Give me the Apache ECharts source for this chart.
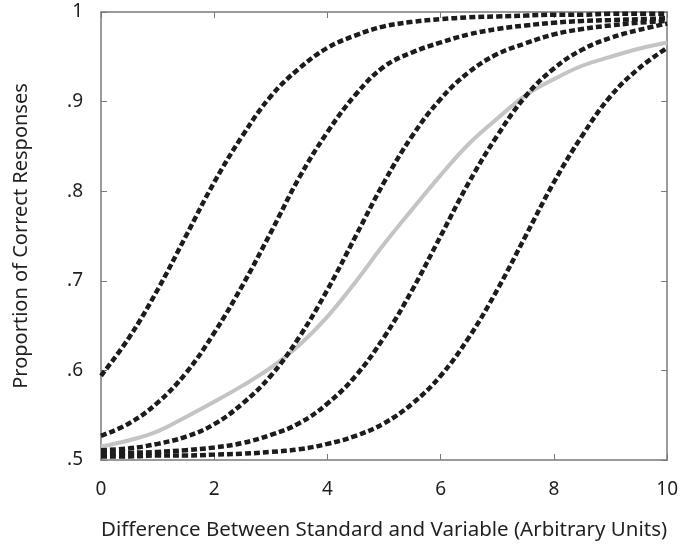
<!DOCTYPE html>
<html>
<head>
<meta charset="utf-8">
<script src="https://cdn.jsdelivr.net/npm/echarts@6/dist/echarts.min.js"></script>
<style>
html,body{margin:0;padding:0;background:#fff;}
#chart{width:681px;height:547px;}
</style>
</head>
<body>
<div id="chart"></div>
<script>
// x positions (Arbitrary Units)
var xValues = [0,0.5,1,1.5,2,2.5,3,3.5,4,4.5,5,5.5,6,6.5,7,7.5,8,8.5,9,9.5,10];

// dashed curves (proportion correct)
var curveA = [0.594,0.637,0.690,0.750,0.810,0.862,0.906,0.937,0.960,0.974,0.984,0.989,0.992,0.994,0.995,0.996,0.997,0.997,0.998,0.998,0.998];
var curveB = [0.527,0.541,0.564,0.597,0.642,0.695,0.754,0.815,0.866,0.908,0.939,0.955,0.966,0.975,0.981,0.985,0.988,0.990,0.991,0.992,0.993];
var curveC = [0.511,0.513,0.518,0.526,0.540,0.563,0.594,0.637,0.690,0.750,0.810,0.862,0.903,0.933,0.953,0.965,0.975,0.981,0.985,0.988,0.990];
var curveD = [0.507,0.508,0.509,0.511,0.514,0.519,0.528,0.541,0.563,0.594,0.637,0.690,0.750,0.810,0.862,0.906,0.937,0.958,0.971,0.980,0.987];
var curveE = [0.504,0.504,0.505,0.505,0.506,0.507,0.509,0.512,0.518,0.527,0.541,0.563,0.594,0.637,0.690,0.750,0.810,0.862,0.906,0.937,0.960];

// solid grey curve
var curveGrey = [0.515,0.522,0.532,0.548,0.565,0.583,0.603,0.628,0.660,0.699,0.741,0.780,0.818,0.853,0.881,0.907,0.925,0.940,0.950,0.959,0.966];

var xTickLabels = ['0','2','4','6','8','10'];
var yTickLabels = ['.5','.6','.7','.8','.9','1'];

function pairs(ys){ return xValues.map(function(x,i){ return [x, ys[i]]; }); }

var FONT = 'Noto Sans';
var axisGrey = '#7a7a7a';

function dashed(name, ys){
  return {
    name: name, type: 'line', data: pairs(ys), smooth: 0.4,
    showSymbol: false, symbol: 'none', xAxisIndex: 0, yAxisIndex: 0,
    lineStyle: { color: '#1c1c1c', width: 4.5, type: [6, 3], cap: 'butt' },
    z: 3
  };
}

var chart = echarts.init(document.getElementById('chart'), null, {renderer: 'canvas'});
chart.setOption({
  animation: false,
  backgroundColor: '#ffffff',
  grid: { left: 101, right: 11, top: 12, bottom: 87, containLabel: false },
  xAxis: [
    {
      type: 'value', min: 0, max: 10, interval: 2, position: 'bottom',
      name: 'Difference Between Standard and Variable (Arbitrary Units)',
      nameLocation: 'middle', nameGap: 60,
      nameTextStyle: { fontFamily: FONT, fontSize: 20.5, color: '#231f20' },
      axisLine: { show: true, onZero: false, lineStyle: { color: axisGrey, width: 1.5 } },
      axisTick: { show: true, inside: true, length: 6, lineStyle: { color: axisGrey, width: 1 } },
      axisLabel: {
        margin: 20, fontFamily: FONT, fontSize: 19, color: '#231f20',
        formatter: function(v){ return xTickLabels[Math.round(v/2)]; }
      },
      splitLine: { show: false }
    },
    {
      type: 'value', min: 0, max: 10, interval: 2, position: 'top',
      axisLine: { show: true, onZero: false, lineStyle: { color: axisGrey, width: 1.5 } },
      axisTick: { show: true, inside: true, length: 6, lineStyle: { color: axisGrey, width: 1 } },
      axisLabel: { show: false },
      splitLine: { show: false }
    }
  ],
  yAxis: [
    {
      type: 'value', min: 0.5, max: 1, interval: 0.1, position: 'left',
      name: 'Proportion of Correct Responses',
      nameLocation: 'middle', nameGap: 70, nameRotate: 90,
      nameTextStyle: { fontFamily: FONT, fontSize: 20, color: '#231f20' },
      axisLine: { show: true, onZero: false, lineStyle: { color: axisGrey, width: 1.5 } },
      axisTick: { show: true, inside: true, length: 6, lineStyle: { color: axisGrey, width: 1 } },
      axisLabel: {
        margin: 18, fontFamily: FONT, fontSize: 19, color: '#231f20',
        formatter: function(v){ return yTickLabels[Math.round((v-0.5)*10)]; }
      },
      splitLine: { show: false }
    },
    {
      type: 'value', min: 0.5, max: 1, interval: 0.1, position: 'right',
      axisLine: { show: true, onZero: false, lineStyle: { color: axisGrey, width: 1.5 } },
      axisTick: { show: true, inside: true, length: 6, lineStyle: { color: axisGrey, width: 1 } },
      axisLabel: { show: false },
      splitLine: { show: false }
    }
  ],
  series: [
    {
      name: 'Grey', type: 'line', data: pairs(curveGrey), smooth: 0.4,
      showSymbol: false, symbol: 'none', xAxisIndex: 0, yAxisIndex: 0,
      lineStyle: { color: '#c4c4c4', width: 4 }, z: 2
    },
    dashed('A', curveA),
    dashed('B', curveB),
    dashed('C', curveC),
    dashed('D', curveD),
    dashed('E', curveE)
  ]
});
</script>
</body>
</html>
